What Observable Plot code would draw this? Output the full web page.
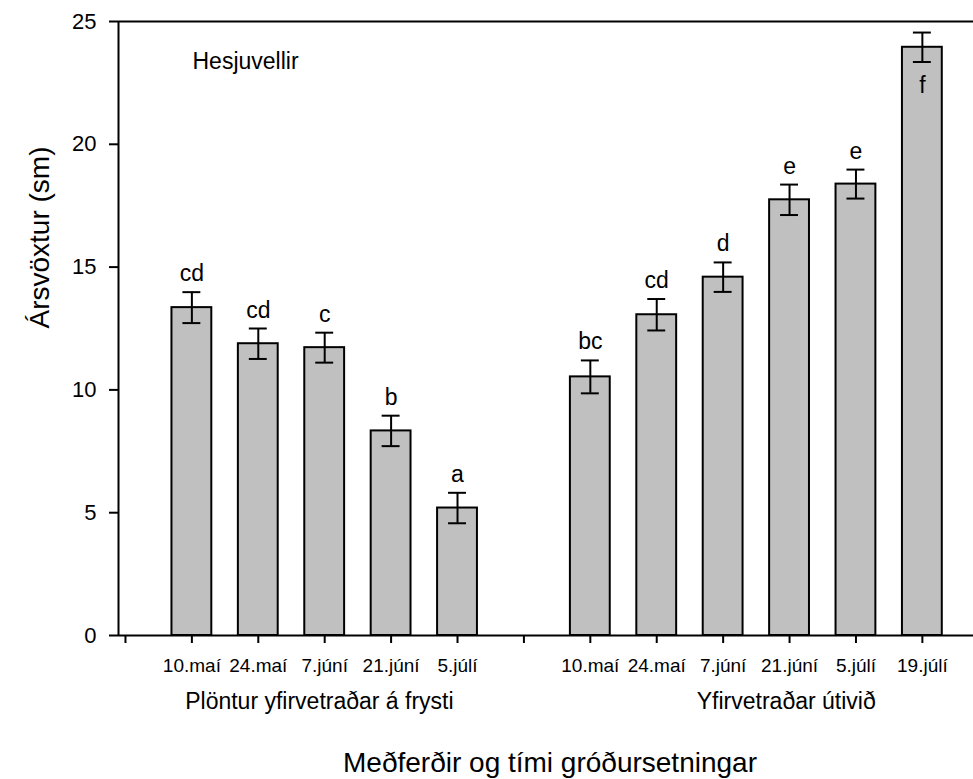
<!DOCTYPE html>
<html>
<head>
<meta charset="utf-8">
<script src="https://cdn.jsdelivr.net/npm/d3@7"></script>
<script src="https://cdn.jsdelivr.net/npm/@observablehq/plot@0.6"></script>
<style>
  html, body { margin: 0; padding: 0; background: #fff; }
  #chart { width: 973px; height: 779px; }
</style>
</head>
<body>
<div id="chart"></div>
<script>
const siteLabel = "Hesjuvellir";
const yTitle = "Ársvöxtur (sm)";
const xTitle = "Meðferðir og tími gróðursetningar";
const groupNames = ["Plöntur yfirvetraðar á frysti", "Yfirvetraðar útivið"];

const dates1 = ["10.maí", "24.maí", "7.júní", "21.júní", "5.júlí"];
const values1 = [13.35, 11.88, 11.72, 8.33, 5.19];
const errors1 = [0.63, 0.62, 0.61, 0.62, 0.62];
const letters1 = ["cd", "cd", "c", "b", "a"];

const dates2 = ["10.maí", "24.maí", "7.júní", "21.júní", "5.júlí", "19.júlí"];
const values2 = [10.53, 13.06, 14.59, 17.74, 18.38, 23.95];
const errors2 = [0.67, 0.64, 0.60, 0.62, 0.59, 0.60];
const letters2 = ["bc", "cd", "d", "e", "e", "f"];

const yTicks = [0, 5, 10, 15, 20, 25];

// slot 0 and slot 6 are empty category positions on the axis
const rows = [
  ...dates1.map((d, i) => ({pos: 1 + i, date: d, value: values1[i], err: errors1[i], letter: letters1[i]})),
  ...dates2.map((d, i) => ({pos: 7 + i, date: d, value: values2[i], err: errors2[i], letter: letters2[i]}))
];
const nSlots = 13;
const above = rows.filter(d => d.value + d.err < 23.5);
const inside = rows.filter(d => d.value + d.err >= 23.5);
const groupLabels = [
  {x: 2.92, text: groupNames[0]},
  {x: 9.95, text: groupNames[1]}
];

const FONT = "'Liberation Sans', Arial, Helvetica, sans-serif";
const hw = 0.3, cap = 0.135;

const chart = Plot.plot({
  width: 973,
  height: 779,
  marginLeft: 118,
  marginRight: 0,
  marginTop: 21,
  marginBottom: 144,
  style: {fontFamily: FONT, color: "#000", background: "#fff", overflow: "visible"},
  x: {type: "linear", domain: [-0.105, 12.77], axis: null},
  y: {domain: [0, 25], axis: null},
  marks: [
    Plot.rectY(rows, {x1: d => d.pos - hw, x2: d => d.pos + hw, y: "value", fill: "#c0c0c0", stroke: "#000", strokeWidth: 2}),
    Plot.ruleX(rows, {x: "pos", y1: d => d.value - d.err, y2: d => d.value + d.err, stroke: "#000", strokeWidth: 2}),
    Plot.ruleY(rows, {y: d => d.value + d.err, x1: d => d.pos - cap, x2: d => d.pos + cap, stroke: "#000", strokeWidth: 2}),
    Plot.ruleY(rows, {y: d => d.value - d.err, x1: d => d.pos - cap, x2: d => d.pos + cap, stroke: "#000", strokeWidth: 2}),
    Plot.text(above, {x: "pos", y: d => d.value + d.err, text: "letter", dy: -11, lineAnchor: "bottom", fontSize: 23, fill: "#000"}),
    Plot.text(inside, {x: "pos", y: d => d.value - d.err, text: "letter", dy: 31, lineAnchor: "bottom", fontSize: 23, fill: "#000"}),
    // axes frame
    Plot.ruleX([-0.105], {stroke: "#000", strokeWidth: 2}),
    Plot.ruleY([0, 25], {stroke: "#000", strokeWidth: 2}),
    Plot.axisY({ticks: yTicks, tickSize: 9, tickPadding: 13, fontSize: 22, stroke: "#000", strokeWidth: 2, fill: "#000", label: null}),
    Plot.axisX({ticks: d3.range(nSlots), tickSize: 8, tickFormat: () => "", stroke: "#000", strokeWidth: 2, label: null}),
    Plot.text(rows, {x: "pos", text: "date", frameAnchor: "bottom", dy: 36, lineAnchor: "bottom", fontSize: 19, fill: "#000"}),
    Plot.text(groupLabels, {x: "x", text: "text", frameAnchor: "bottom", dy: 73, lineAnchor: "bottom", fontSize: 23, fill: "#000"}),
    Plot.text([xTitle], {frameAnchor: "bottom", dx: 4, dy: 136, lineAnchor: "bottom", fontSize: 28, fill: "#000"}),
    Plot.text([yTitle], {frameAnchor: "left", dx: -78, rotate: -90, fontSize: 28, fill: "#000"}),
    Plot.text([siteLabel], {frameAnchor: "top-left", dx: 74, dy: 47, lineAnchor: "bottom", textAnchor: "start", fontSize: 23, fill: "#000"})
  ]
});
document.getElementById("chart").appendChild(chart);
</script>
</body>
</html>
